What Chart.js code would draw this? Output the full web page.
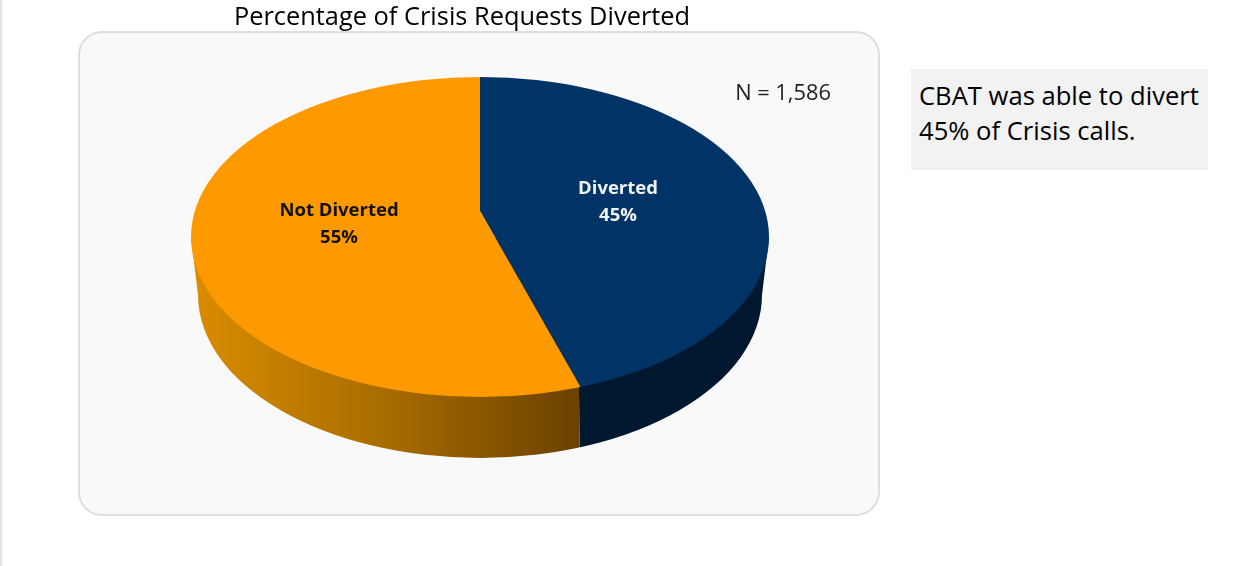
<!DOCTYPE html>
<html>
<head>
<meta charset="utf-8">
<title>Percentage of Crisis Requests Diverted</title>
<script src="https://cdn.jsdelivr.net/npm/chart.js@4"></script>
<style>
  html, body { margin: 0; padding: 0; background: #fff; }
  body { position: relative; width: 1250px; height: 566px; overflow: hidden; font-family: "Open Sans", sans-serif; }
  #strip { position: absolute; left: 0; top: 0; width: 2px; height: 566px; background: #dce6f2; }
  #panel { position: absolute; left: 78px; top: 31px; width: 798px; height: 481px; background: #f9f9f9; border: 2px solid #dedede; border-radius: 24px; }
  #chart { position: absolute; left: 0; top: 0; }
  #note { position: absolute; left: 911px; top: 69px; width: 297px; height: 101px; padding: 9px 0 0 8px; box-sizing: border-box; background: #f2f2f2; color: #000; font-size: 25.6px; line-height: 35px; white-space: nowrap; }
</style>
</head>
<body>
<div id="strip"></div>
<div id="panel"></div>
<canvas id="chart" width="924" height="566"></canvas>
<div id="note">CBAT was able to divert<br>45% of Crisis calls.</div>
<script>
// == DATA
const categories = ['Diverted', 'Not Diverted'];
const shares = [45, 55];
const chartTitle = 'Percentage of Crisis Requests Diverted';
const sampleNote = 'N = 1,586';

// == LOOK
const topColors = ['#003366', '#ff9900'];
const labelColors = ['#f2f2f2', '#111111'];
const labelSpots = [[618, 189], [339, 211]];
const FONT = '"Open Sans", sans-serif';

// 3D look: same arcs painted twice, once as the wall and once as the lid
const lid = { cx: 480, cy: 237, rx: 289, ry: 160, apexX: 480, apexY: 211, squash: 0.569 };
const base = { cx: 480, cy: 295, rx: 282, ry: 163, seamX: 578, seamY: 300 };

const pie3d = {
    id: 'pie3d',
    beforeDatasetsDraw(chart) {
        const ctx = chart.ctx;
        const arcs = chart.getDatasetMeta(0).data;
        const cx = arcs[0].x, cy = arcs[0].y;

        // wall
        ctx.save();
        ctx.beginPath();
        ctx.moveTo(lid.cx - lid.rx, lid.cy);
        ctx.lineTo(base.cx - base.rx, base.cy);
        ctx.ellipse(base.cx, base.cy, base.rx, base.ry, 0, Math.PI, 0, true);
        ctx.lineTo(lid.cx + lid.rx, lid.cy);
        ctx.closePath();
        ctx.clip();
        ctx.translate(base.seamX - cx, base.seamY);
        ctx.scale(1, 30);
        ctx.translate(0, -cy);
        const shift = base.seamX - cx;
        const orangeWall = ctx.createLinearGradient(195 - shift, 0, 579 - shift, 0);
        orangeWall.addColorStop(0, '#d98c00');
        orangeWall.addColorStop(0.5, '#a86c00');
        orangeWall.addColorStop(1, '#6a4100');
        const wallFill = ['#00182f', orangeWall];
        arcs.forEach((arc, i) => {
            const saved = arc.options;
            arc.options = Object.create(saved, { backgroundColor: { value: wallFill[i] } });
            arc.draw(ctx);
            arc.options = saved;
        });
        ctx.restore();

        // lid, closed again in afterDatasetsDraw
        ctx.save();
        ctx.beginPath();
        ctx.ellipse(lid.cx, lid.cy, lid.rx, lid.ry, 0, 0, Math.PI * 2);
        ctx.clip();
        ctx.translate(lid.apexX, lid.apexY);
        ctx.scale(1, lid.squash);
        ctx.translate(-cx, -cy);
    },
    afterDatasetsDraw(chart) {
        const ctx = chart.ctx;
        ctx.restore();

        ctx.save();
        ctx.textAlign = 'center';
        ctx.textBaseline = 'middle';
        ctx.font = 'bold 18.5px ' + FONT;
        categories.forEach((name, i) => {
            ctx.fillStyle = labelColors[i];
            ctx.fillText(name, labelSpots[i][0], labelSpots[i][1]);
            ctx.fillText(shares[i] + '%', labelSpots[i][0], labelSpots[i][1] + 27);
        });
        ctx.font = '21.8px ' + FONT;
        ctx.fillStyle = '#222222';
        ctx.fillText(sampleNote, 783, 94);
        ctx.restore();
    }
};

new Chart(document.getElementById('chart'), {
    type: 'pie',
    data: {
        labels: categories,
        datasets: [{
            data: shares,
            backgroundColor: topColors,
            borderWidth: 0,
            radius: 600
        }]
    },
    options: {
        responsive: false,
        animation: false,
        events: [],
        plugins: {
            legend: { display: false },
            tooltip: { enabled: false },
            title: {
                display: true,
                text: chartTitle,
                color: '#000000',
                font: { family: FONT, size: 25.4, weight: 'normal' },
                padding: { top: 3, bottom: 4 }
            }
        }
    },
    plugins: [pie3d]
});
</script>
</body>
</html>
